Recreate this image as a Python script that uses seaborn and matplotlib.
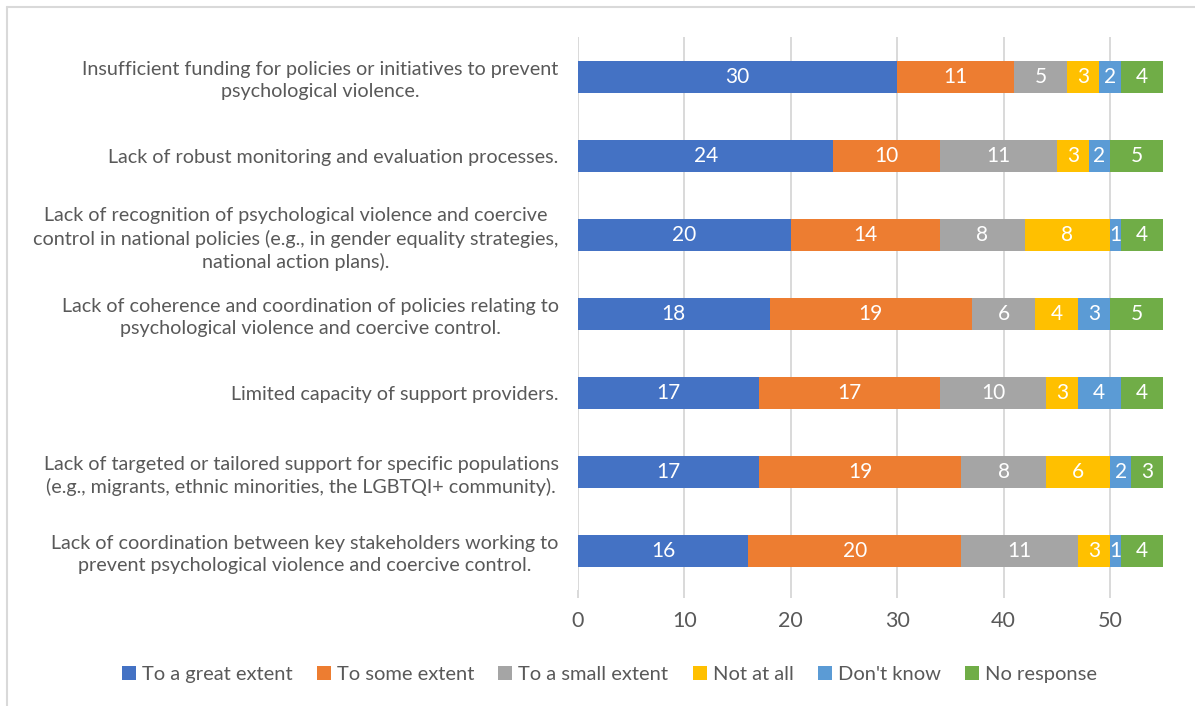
import matplotlib
matplotlib.use("Agg")
import matplotlib.pyplot as plt
import seaborn as sns
import numpy as np
from matplotlib.patches import Patch
from matplotlib.lines import Line2D

categories = [
    "Insufficient funding for policies or initiatives to prevent\npsychological violence.",
    "Lack of robust monitoring and evaluation processes.",
    "Lack of recognition of psychological violence and coercive\ncontrol in national policies (e.g., in gender equality strategies,\nnational action plans).",
    "Lack of coherence and coordination of policies relating to\npsychological violence and coercive control.",
    "Limited capacity of support providers.",
    "Lack of targeted or tailored support for specific populations\n(e.g., migrants, ethnic minorities, the LGBTQI+ community).",
    "Lack of coordination between key stakeholders working to\nprevent psychological violence and coercive control.",
]
series_names = ["To a great extent", "To some extent", "To a small extent",
                "Not at all", "Don't know", "No response"]
great = [30, 24, 20, 18, 17, 17, 16]
some = [11, 10, 14, 19, 17, 19, 20]
small = [5, 11, 8, 6, 10, 8, 11]
not_at_all = [3, 3, 8, 4, 3, 6, 3]
dont_know = [2, 2, 1, 3, 4, 2, 1]
no_response = [4, 5, 4, 5, 4, 3, 4]
colors = ["#4472C4", "#ED7D31", "#A5A5A5", "#FFC000", "#5B9BD5", "#70AD47"]

sns.set_theme(style="white")
plt.rcParams["font.family"] = ["Lato", "DejaVu Sans"]
text_color = "#595959"
grid_color = "#D9D9D9"

values = np.array([great, some, small, not_at_all, dont_know, no_response], dtype=float)
cum = values.cumsum(axis=0)

fig = plt.figure(figsize=(11.95, 7.06), dpi=100)
ax = fig.add_axes([0.4837, 0.1636, 0.4941, 0.7833])

# stacked bars: draw cumulative totals from the last series to the first
for i in range(len(series_names) - 1, -1, -1):
    sns.barplot(x=cum[i], y=categories, color=colors[i], orient="h",
                width=0.4, saturation=1, ax=ax, linewidth=0)

for i in range(len(series_names)):
    for j in range(len(categories)):
        v = values[i, j]
        ax.text(cum[i, j] - v / 2, j, f"{int(v)}", ha="center", va="center",
                color="white", fontsize=15)

ax.set_xlim(0, 55.5)
ax.set_xticks([0, 10, 20, 30, 40, 50])
ax.grid(axis="x", color=grid_color, linewidth=1.4)
ax.set_axisbelow(True)
for s in ax.spines.values():
    s.set_visible(False)
ax.set_xlabel("")
ax.set_ylabel("")
ax.tick_params(axis="x", length=6, width=1.4, color=grid_color, labelcolor=text_color,
               labelsize=15.5, pad=9, bottom=True)
ax.tick_params(axis="y", length=0, labelsize=14.2, labelcolor=text_color, pad=14)
for lbl in ax.get_yticklabels():
    lbl.set_multialignment("center")
    lbl.set_linespacing(1.35)

handles = [Patch(facecolor=c, edgecolor="none") for c in colors]
fig.legend(handles, series_names, loc="center", bbox_to_anchor=(0.51, 0.044),
           ncol=6, frameon=False, fontsize=14.5, handlelength=0.7, handleheight=0.7,
           handletextpad=0.3, columnspacing=1.2, labelcolor=text_color)

# chart border (top and left edges)
fig.add_artist(Line2D([7 / 1195, 1], [1 - 7 / 706, 1 - 7 / 706], color=grid_color,
                      linewidth=1.5, transform=fig.transFigure))
fig.add_artist(Line2D([7 / 1195, 7 / 1195], [0, 1 - 7 / 706], color=grid_color,
                      linewidth=1.5, transform=fig.transFigure))

fig.savefig("out.png", dpi=100)
